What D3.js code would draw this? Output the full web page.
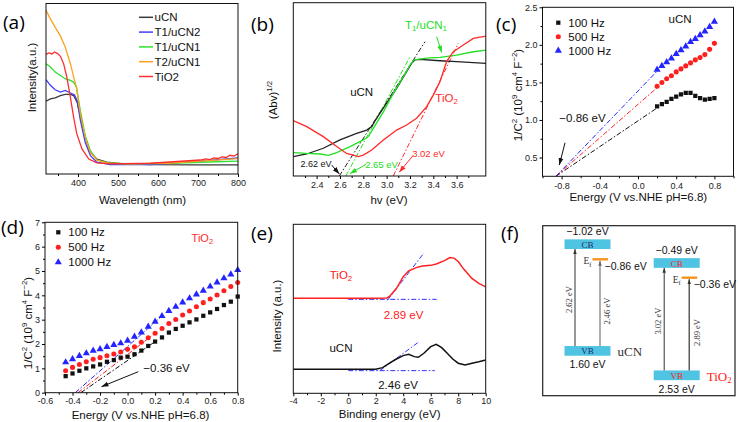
<!DOCTYPE html>
<html><head><meta charset="utf-8">
<script src="https://cdn.jsdelivr.net/npm/d3@7"></script>
<style>html,body{margin:0;padding:0;background:#fff;}svg{display:block;}</style>
</head><body>
<svg id="fig" width="738" height="422"></svg>
<script>
// ================= DATA =================
// (a) UV-vis absorbance [wavelength (nm), intensity (a.u.)]
const aNames  = ["uCN", "T1/uCN2", "T1/uCN1", "T2/uCN1", "TiO2"];
const aColors = ["#3a3a3a", "#3f3fff", "#2fe02f", "#ffa01e", "#ff2d2d"];
const aUCN    = [[320,42.7],[331,44],[343,44.7],[356,46],[368,46.7],[381,46.7],[389,46],[398,42],[406,33.3],[418,21.6],[431,12.7],[447,8.8],[472,6.9],[514,5.9],[580,5.5],[700,5.4],[800,5.3]];
const aT1uCN2 = [[320,55.3],[331,52],[343,49.4],[356,48],[368,49],[381,47.5],[391,46.5],[398,43],[406,31.4],[418,18.6],[431,10.8],[447,6.9],[481,5.5],[581,5.5],[706,7.5],[800,9.4]];
const aT1uCN1 = [[320,64.7],[331,62.7],[343,59.8],[356,57.8],[368,55.9],[381,54.9],[389,53.9],[396,51],[406,37],[418,22.5],[431,13.7],[447,8.2],[481,6.3],[539,5.9],[622,6.3],[706,6.9],[800,7.5]];
const aT2uCN1 = [[320,96],[331,91],[343,86],[356,81],[368,74.5],[381,64.7],[389,57],[396,51],[406,35],[418,21.6],[431,12.7],[447,8.2],[472,6.5],[522,5.9],[622,6.3],[706,7.5],[800,9]];
const aTiO2   = [[320,70.2],[327,71],[335,70.4],[341,71.6],[349,70.6],[356,69],[364,64.7],[372,56.9],[381,45],[389,33.3],[397,23.5],[410,14.7],[427,8.8],[447,6.5],[481,5.9],[581,6.3],[706,8.2],[720,8.9],[730,8.4],[740,9.5],[750,9.1],[760,10],[770,9.7],[780,11],[790,10.5],[800,11.8]];
const aTicks = [400, 500, 600, 700, 800];

// (b) Tauc plot [hv (eV), (Abv)^1/2]
const bUCN    = [[2.2,11.2],[2.315,12.7],[2.457,16],[2.6,20.8],[2.743,24.6],[2.829,26.5],[2.872,28.5],[2.914,33.3],[3.0,42],[3.086,50.6],[3.171,60.2],[3.214,65],[3.243,67],[3.286,67.3],[3.457,66.5],[3.6,66],[3.743,65.4],[3.857,65]];
const bT1uCN1 = [[2.2,13.5],[2.315,13],[2.43,12.7],[2.5,11.9],[2.572,13.5],[2.686,17],[2.8,20.8],[2.843,22.7],[2.886,27.5],[2.972,37],[3.057,47.7],[3.143,57.3],[3.2,64],[3.234,67],[3.343,68],[3.457,68.5],[3.6,69.8],[3.743,71.7],[3.857,72.7]];
const bTiO2   = [[2.2,31.9],[2.315,28.5],[2.457,22.7],[2.572,17],[2.657,13],[2.757,11.2],[2.8,12.1],[2.872,15],[2.972,20.8],[3.086,26.5],[3.171,29.4],[3.257,33.3],[3.343,40],[3.4,46.7],[3.457,54.4],[3.514,66],[3.571,71.7],[3.657,75.6],[3.743,79.4],[3.857,80.8]];
const bFits   = [[[2.594,0],[3.329,77.5]], [[2.65,0],[3.2,68.8]], [[3.057,0],[3.614,76.5]]];
const bTicks  = [2.4, 2.6, 2.8, 3.0, 3.2, 3.4, 3.6];

// (c) Mott-Schottky uCN
const cX     = [0.2,0.25,0.3,0.35,0.4,0.45,0.5,0.55,0.6,0.65,0.7,0.75,0.8];
const c100   = [1.18,1.21,1.24,1.28,1.31,1.34,1.36,1.36,1.32,1.29,1.27,1.28,1.29];
const c500   = [1.45,1.50,1.55,1.59,1.64,1.68,1.72,1.76,1.80,1.83,1.87,1.94,2.02];
const c1000  = [1.67,1.72,1.77,1.82,1.88,1.93,1.98,2.04,2.08,2.13,2.18,2.24,2.31];
const cFlat  = -0.86;
const cXTicks = [-0.8, -0.4, 0.0, 0.4, 0.8];
const cYTicks = [0.5, 1.0, 1.5, 2.0, 2.5];

// (d) Mott-Schottky TiO2
const dX    = [-0.45,-0.4,-0.35,-0.3,-0.25,-0.2,-0.15,-0.1,-0.05,0,0.05,0.1,0.15,0.2,0.25,0.3,0.35,0.4,0.45,0.5,0.55,0.6,0.65,0.7,0.75,0.8];
const d100  = [0.68,0.79,0.9,1.0,1.08,1.16,1.27,1.34,1.44,1.48,1.58,1.73,1.92,2.1,2.27,2.47,2.62,2.75,2.89,3.01,3.16,3.3,3.44,3.6,3.74,3.95];
const d500  = [0.9,1.04,1.16,1.27,1.37,1.44,1.52,1.59,1.67,1.78,1.89,2.07,2.26,2.44,2.64,2.84,3.01,3.19,3.36,3.53,3.7,3.85,4.01,4.19,4.36,4.53];
const d1000 = [1.25,1.38,1.51,1.62,1.73,1.79,1.88,1.96,2.03,2.14,2.3,2.48,2.71,2.92,3.15,3.36,3.53,3.71,3.88,4.04,4.19,4.36,4.53,4.7,4.86,5.04];
const dFlat = [-0.34, -0.36, -0.38];
const dFitEnd = [0.2, 0.2, 0.25];
const dXTicks = [-0.6,-0.4,-0.2,0.0,0.2,0.4,0.6,0.8];
const dYTicks = [0,1,2,3,4,5,6,7];

// (e) VB-XPS [binding energy, intensity]
const eTiO2 = [[-4,56.2],[-2,56.2],[0,56.2],[2,56.3],[2.8,56.4],[3.0,57.3],[3.5,62],[4.0,69],[4.4,72.5],[5.0,74.5],[5.4,75.3],[6.0,75.7],[6.4,76.5],[7.0,78.5],[7.4,80.3],[7.7,80],[8.0,78],[8.4,73.5],[9.0,68],[9.5,65],[10,63]];
const eUCN  = [[-4,14.2],[0,14.2],[2,14.3],[2.5,15.2],[3.0,17.8],[3.5,20.3],[4.0,22.3],[4.4,23.1],[4.8,21.7],[5.1,21.3],[5.5,23.7],[6.0,27.6],[6.4,29],[6.8,27],[7.2,23.7],[7.6,20.3],[8.0,17.8],[8.5,16.8],[9.0,17.8],[9.5,18.7],[10,19.7]];
const eBase = [[[0,55.6],[6.43,55.6]], [[0,13.4],[6.3,13.4]]];
const eTang = [[[2.85,55],[5.5,83]], [[2.3,13.4],[5.1,30.2]]];
const eTicks = [-4,-2,0,2,4,6,8,10];

// (f) band diagram
const fNames = ["uCN", "TiO2"];
const fCB = [-1.02, -0.49];
const fVB = [1.60, 2.53];
const fEf = [-0.86, -0.36];
const fGap = ["2.62 eV", "3.02 eV"];
const fGapEf = ["2.46 eV", "2.89 eV"];

// ================= DRAWING =================
const svg = d3.select("#fig");
const FONT = "'Liberation Sans', Arial, sans-serif";
const SERIF = "'Liberation Serif', 'Times New Roman', serif";
const PLAB = "'Open Sans', 'Noto Sans', sans-serif";
const defs = svg.append("defs");
svg.append("rect").attr("width",738).attr("height",422).attr("fill","#fff");

function marker(id, color, w) {
  defs.append("marker").attr("id", id).attr("viewBox","0 0 10 10").attr("refX",10).attr("refY",5)
    .attr("markerWidth", w).attr("markerHeight", w).attr("orient","auto").attr("markerUnits","userSpaceOnUse")
    .append("path").attr("d","M0,1.5 L10,5 L0,8.5 Z").attr("fill", color);
}
marker("mK","#111",7); marker("mG","#22dd22",7); marker("mR","#ff2a2a",7); marker("mF","#333",5); marker("mF2","#666",5);

let clipN = 0;
function panel(x, y) {
  const id = "cp" + (clipN++);
  const [x0,x1] = x.range(), [y0,y1] = y.range();
  defs.append("clipPath").attr("id", id).append("rect").attr("x",x0).attr("y",y1).attr("width",x1-x0).attr("height",y0-y1);
  const g = svg.append("g");
  const inner = g.append("g").attr("clip-path", `url(#${id})`);
  return {g, inner, frame: () => g.append("rect").attr("x",x0).attr("y",y1).attr("width",x1-x0).attr("height",y0-y1)
      .attr("fill","none").attr("stroke","#111").attr("stroke-width",1)};
}
function axisB(g, x, yPos, majors, minors, fmt, pad = 3) {
  const a = g.append("g").attr("transform",`translate(0,${yPos})`)
    .call(d3.axisBottom(x).tickValues(majors).tickFormat(fmt).tickSize(3).tickPadding(pad));
  a.select(".domain").remove();
  a.attr("font-family", FONT).attr("font-size", 9);
  a.selectAll("text").attr("fill","#222");
  if (minors) {
    const m = g.append("g").attr("transform",`translate(0,${yPos})`)
      .call(d3.axisBottom(x).tickValues(minors).tickFormat(() => "").tickSize(2));
    m.select(".domain").remove();
  }
}
function axisL(g, y, xPos, majors, minors, fmt) {
  const a = g.append("g").attr("transform",`translate(${xPos},0)`)
    .call(d3.axisLeft(y).tickValues(majors).tickFormat(fmt).tickSize(3).tickPadding(2));
  a.select(".domain").remove();
  a.attr("font-family", FONT).attr("font-size", 9);
  a.selectAll("text").attr("fill","#222");
  if (minors) {
    const m = g.append("g").attr("transform",`translate(${xPos},0)`)
      .call(d3.axisLeft(y).tickValues(minors).tickFormat(() => "").tickSize(2));
    m.select(".domain").remove();
  }
}
function rich(t, parts, fs) {
  let shift = 0;
  parts.forEach(([s, k]) => {
    const target = k === "sup" ? -0.38*fs : k === "sub" ? 0.28*fs : 0;
    t.append("tspan").attr("dy", target - shift).attr("font-size", k === "n" ? fs : fs*0.68).text(s);
    shift = target;
  });
  return t;
}
function text(g, x, y, s, o = {}) {
  return g.append("text").attr("x", x).attr("y", y).attr("font-family", o.font || FONT)
    .attr("font-size", o.size || 11.5).attr("fill", o.color || "#111")
    .attr("text-anchor", o.anchor || "middle").attr("dominant-baseline", o.base || "auto")
    .attr("transform", o.rot ? `rotate(-90,${x},${y})` : null).text(s);
}
function panelLabel(s, x, y) { text(svg, x, y, s, {font: PLAB, size: 19, anchor: "start", base: "central", color:"#000"}); }
const f1 = d => d.toFixed(1);
const eVfmt = d => (d < 0 ? "\u2212" : "") + Math.abs(d).toFixed(2) + " eV";

// ---------- (a) ----------
{
  const x = d3.scaleLinear([320, 800], [46, 238]);
  const y = d3.scaleLinear([0, 100], [174, 3.5]);
  const P = panel(x, y);
  const line = d3.line().x(d => x(d[0])).y(d => y(d[1]));
  [aUCN, aT1uCN2, aT1uCN1, aT2uCN1, aTiO2].forEach((s, i) =>
    P.inner.append("path").attr("d", line(s)).attr("fill","none").attr("stroke", aColors[i]).attr("stroke-width", 1.3));
  P.frame();
  axisB(P.g, x, 174, aTicks, [350,450,550,650,750], d => d);
  text(P.g, 142.5, 204, "Wavelength (nm)");
  text(P.g, 31.7, 77.5, "Intensity(a.u.)", {rot: true, base: "central"});
  aNames.forEach((n, i) => {
    const yy = 17.3 + i*14.8;
    P.g.append("line").attr("x1",139).attr("x2",153).attr("y1",yy).attr("y2",yy).attr("stroke",aColors[i]).attr("stroke-width",1.5);
    text(P.g, 154.5, yy, n, {anchor:"start", base:"central", size: 11.5});
  });
  panelLabel("(a)", 3, 22);
}

// ---------- (b) ----------
{
  const x = d3.scaleLinear([2.2, 3.85], [293.3, 485.8]);
  const y = d3.scaleLinear([0, 100], [176, 2.7]);
  const P = panel(x, y);
  const line = d3.line().x(d => x(d[0])).y(d => y(d[1]));
  const cols = ["#222", "#22e022", "#ff2a2a"];
  bFits.forEach((f, i) => P.inner.append("path").attr("d", line(f)).attr("fill","none").attr("stroke", cols[i])
      .attr("stroke-width",1).attr("stroke-dasharray","5,2,1.5,2"));
  [bUCN, bT1uCN1, bTiO2].forEach((s, i) =>
    P.inner.append("path").attr("d", line(s)).attr("fill","none").attr("stroke", cols[i]).attr("stroke-width", 1.3));
  P.frame();
  axisB(P.g, x, 176, bTicks, [2.3,2.5,2.7,2.9,3.1,3.3,3.5,3.7], f1);
  text(P.g, 389, 203.5, "hv (eV)");
  rich(text(P.g, 273.3, 100, "", {rot: true, base: "central"}), [["(Abv)","n"],["1/2","sup"]], 11.5);
  const arrow = (a, b, c, m) => P.g.append("line").attr("x1",x(a[0])).attr("y1",y(a[1])).attr("x2",x(b[0])).attr("y2",y(b[1]))
      .attr("stroke",c).attr("stroke-width",1).attr("marker-end",`url(#${m})`);
  arrow([2.529,6.3],[2.594,1.2],"#111","mK");
  arrow([2.823,6.75],[2.686,1.4],"#22dd22","mG");
  arrow([3.223,11.5],[3.108,2.2],"#ff2a2a","mR");
  arrow([3.429,80.4],[3.472,71.2],"#22dd22","mG");
  text(P.g, x(2.394), y(6.9), "2.62 eV", {size: 9, base:"central"});
  text(P.g, x(2.956), y(6.9), "2.65 eV", {size: 9.5, base:"central", color:"#22dd22"});
  text(P.g, x(3.359), y(12.7), "3.02 eV", {size: 9.5, base:"central", color:"#ff2a2a"});
  text(P.g, x(2.786), y(48.5), "uCN", {base:"central"});
  rich(text(P.g, x(3.514), y(45), "", {base:"central", color:"#ff2a2a"}), [["TiO","n"],["2","sub"]], 11.5);
  rich(text(P.g, x(3.337), y(87.1), "", {base:"central", color:"#22dd22"}), [["T","n"],["1","sub"],["/uCN","n"],["1","sub"]], 11.5);
  panelLabel("(b)", 251, 24);
}

// ---------- (c) ----------
{
  const x = d3.scaleLinear([-1, 1], [542.5, 733.5]);
  const y = d3.scaleLinear([0.25, 2.5], [176.3, 7.3]);
  const P = panel(x, y);
  const series = [c100, c500, c1000];
  const cols = ["#111", "#ff1f1f", "#2424ff"];
  const syms = [d3.symbolSquare, d3.symbolCircle, d3.symbolTriangle];
  const sizes = [18, 20, 22];
  series.forEach((s, i) => {
    P.inner.append("line").attr("x1", x(cFlat)).attr("y1", y(0.25)).attr("x2", x(cX[0])).attr("y2", y(s[0]-0.02))
      .attr("stroke", cols[i]).attr("stroke-width",1).attr("stroke-dasharray","5,2,1.5,2");
  });
  series.forEach((s, i) => {
    P.inner.selectAll(null).data(s).join("path").attr("d", d3.symbol(syms[i], sizes[i]))
      .attr("transform", (d, j) => `translate(${x(cX[j])},${y(d)})`).attr("fill", cols[i]);
  });
  P.frame();
  axisB(P.g, x, 176.3, cXTicks, [-1.0,-0.6,-0.2,0.2,0.6,1.0], f1);
  axisL(P.g, y, 542.5, cYTicks, [0.75,1.25,1.75,2.25], f1);
  text(P.g, 638.3, 200.8, "Energy (V vs.NHE pH=6.8)");
  rich(text(P.g, 518.3, 95, "", {rot: true, base:"central"}), [["1/C","n"],["2","sup"],[" (10","n"],["9","sup"],[" cm","n"],["4","sup"],[" F","n"],["\u22122","sup"],[")","n"]], 11.5);
  ["100 Hz","500 Hz","1000 Hz"].forEach((n, i) => {
    const yy = 22.7 + i*14;
    P.g.append("path").attr("d", d3.symbol(syms[i], sizes[i])).attr("transform",`translate(558.3,${yy})`).attr("fill",cols[i]);
    text(P.g, 568.3, yy, n, {anchor:"start", base:"central"});
  });
  text(P.g, x(0.44), y(2.34), "uCN", {base:"central"});
  text(P.g, x(-0.581), y(1.022), eVfmt(cFlat), {base:"central"});
  P.g.append("line").attr("x1",x(-0.764)).attr("y1",y(0.697)).attr("x2",x(-0.824)).attr("y2",y(0.40))
    .attr("stroke","#111").attr("stroke-width",1).attr("marker-end","url(#mK)");
  panelLabel("(c)", 496, 24);
}

// ---------- (d) ----------
{
  const x = d3.scaleLinear([-0.6, 0.8], [45, 237.7]);
  const y = d3.scaleLinear([0, 7], [392.7, 222.3]);
  const P = panel(x, y);
  const series = [d100, d500, d1000];
  const cols = ["#111", "#ff1f1f", "#2424ff"];
  const syms = [d3.symbolSquare, d3.symbolCircle, d3.symbolTriangle];
  const sizes = [18, 20, 22];
  series.forEach((s, i) => {
    const j = dX.indexOf(dFitEnd[i]);
    P.inner.append("line").attr("x1", x(dFlat[i])).attr("y1", y(0)).attr("x2", x(dFitEnd[i])).attr("y2", y(s[j]))
      .attr("stroke", cols[i]).attr("stroke-width",1).attr("stroke-dasharray","5,2,1.5,2");
  });
  series.forEach((s, i) => {
    P.g.selectAll(null).data(s).join("path").attr("d", d3.symbol(syms[i], sizes[i]))
      .attr("transform", (d, j) => `translate(${x(dX[j])},${y(d)})`).attr("fill", cols[i]);
  });
  P.frame();
  axisB(P.g, x, 392.7, dXTicks, [-0.5,-0.3,-0.1,0.1,0.3,0.5,0.7], f1, 2);
  axisL(P.g, y, 45, dYTicks, [0.5,1.5,2.5,3.5,4.5,5.5,6.5], d => d);
  text(P.g, 140.5, 418.5, "Energy (V vs.NHE pH=6.8)");
  rich(text(P.g, 28.3, 323, "", {rot: true, base:"central"}), [["1/C","n"],["2","sup"],[" (10","n"],["9","sup"],[" cm","n"],["4","sup"],[" F","n"],["\u22122","sup"],[")","n"]], 11.5);
  ["100 Hz","500 Hz","1000 Hz"].forEach((n, i) => {
    const yy = 232.3 + i*15;
    P.g.append("path").attr("d", d3.symbol(syms[i], sizes[i])).attr("transform",`translate(58.3,${yy})`).attr("fill",cols[i]);
    text(P.g, 68.3, yy, n, {anchor:"start", base:"central"});
  });
  rich(text(P.g, x(0.543), y(6.34), "", {base:"central", color:"#ff2a2a"}), [["TiO","n"],["2","sub"]], 11);
  text(P.g, x(0.283), y(1.0), eVfmt(dFlat[1]), {base:"central"});
  P.g.append("line").attr("x1",x(0.078)).attr("y1",y(0.863)).attr("x2",x(-0.19)).attr("y2",y(0.247))
    .attr("stroke","#111").attr("stroke-width",1).attr("marker-end","url(#mK)");
  panelLabel("(d)", 1, 226.5);
}

// ---------- (e) ----------
{
  const x = d3.scaleLinear([-4, 10], [293.3, 485.7]);
  const y = d3.scaleLinear([0, 100], [393.3, 224.3]);
  const P = panel(x, y);
  const line = d3.line().x(d => x(d[0])).y(d => y(d[1]));
  eBase.concat(eTang).forEach(f => P.inner.append("path").attr("d", line(f)).attr("fill","none").attr("stroke","#3030ff")
      .attr("stroke-width",1).attr("stroke-dasharray","5,2,1.5,2"));
  P.inner.append("path").attr("d", line(eTiO2)).attr("fill","none").attr("stroke","#ff2020").attr("stroke-width",1.5);
  P.inner.append("path").attr("d", line(eUCN)).attr("fill","none").attr("stroke","#111").attr("stroke-width",1.5);
  P.frame();
  axisB(P.g, x, 393.3, eTicks, [-3,-1,1,3,5,7,9], d => d, 1.5);
  text(P.g, 389.7, 417.5, "Binding energy (eV)");
  text(P.g, 277.3, 316, "Intensity (a.u.)", {rot: true, base:"central"});
  rich(text(P.g, x(-0.53), y(70), "", {base:"central", color:"#ff2020"}), [["TiO","n"],["2","sub"]], 11.5);
  text(P.g, x(4.02), y(46.3), "2.89 eV", {base:"central", color:"#ff2020"});
  text(P.g, x(-0.53), y(26.6), "uCN", {base:"central"});
  text(P.g, x(3.62), y(4.9), "2.46 eV", {base:"central"});
  panelLabel("(e)", 251, 232.5);
}

// ---------- (f) ----------
{
  const g = svg.append("g");
  g.append("rect").attr("x",542.7).attr("y",225.7).attr("width",192.3).attr("height",170)
    .attr("fill","none").attr("stroke","#222").attr("stroke-width",1.2);
  const levels = [fCB[0], fEf[0], fCB[1], fEf[1], fVB[0], fVB[1]];
  const fy = d3.scaleLinear().domain(levels).range([244.2, 259.3, 263, 277.7, 350.9, 375.3]);
  const fx = d3.scalePoint().domain(fNames).range([587.5, 676.7]);
  const bw = 46, bh = 9.7;
  const boxCol = "#4fc4e2";
  const txtCol = ["#1c2a6e", "#ff2020"];
  fNames.forEach((n, i) => {
    const cx = fx(n);
    [["CB", fCB[i]], ["VB", fVB[i]]].forEach(([lab, E]) => {
      g.append("rect").attr("x", cx - bw/2).attr("y", fy(E) - bh/2).attr("width", bw).attr("height", bh).attr("fill", boxCol);
      text(g, cx, fy(E) + 0.5, lab, {font: SERIF, size: 9, base: "central", color: txtCol[i]});
    });
    text(g, cx, fy(fCB[i]) - bh/2 - 4, eVfmt(fCB[i]), {size: 10.5});
    text(g, cx, fy(fVB[i]) + bh/2 + 12.5, eVfmt(fVB[i]), {size: 10.5});
    const xa = cx - 12.5, xb = cx + 12.5;
    g.append("line").attr("x1", xa).attr("x2", xa).attr("y1", fy(fVB[i]) - bh/2).attr("y2", fy(fCB[i]) + bh/2)
      .attr("stroke","#333").attr("stroke-width",1).attr("marker-end","url(#mF)");
    g.append("line").attr("x1", xb).attr("x2", xb).attr("y1", fy(fVB[i]) - bh/2).attr("y2", fy(fEf[i]) + 1.5)
      .attr("stroke", i === 0 ? "#777" : "#333").attr("stroke-width",1.2).attr("marker-end", i === 0 ? "url(#mF2)" : "url(#mF)");
    g.append("line").attr("x1", cx + 5).attr("x2", cx + 20.5).attr("y1", fy(fEf[i])).attr("y2", fy(fEf[i]))
      .attr("stroke","#f7931e").attr("stroke-width",2.4);
    rich(text(g, cx + 4, fy(fEf[i]) + 2, "", {font: SERIF, size: 9.5, anchor: "end", base: "central", color:"#333"}), [["E","n"],["f","sub"]], 9.5);
    text(g, cx + 17, fy(fEf[i]) + 6.5, eVfmt(fEf[i]), {size: 10.5, anchor: "start", base: "central"});
    const mid1 = (fy(fVB[i]) + fy(fCB[i])) / 2, mid2 = (fy(fVB[i]) + fy(fEf[i])) / 2;
    text(g, xa - 6, mid1 + 2, fGap[i], {font: SERIF, size: 8.5, rot: true, base: "central", color:"#333"});
    text(g, xb + 7.5, mid2 + 6, fGapEf[i], {font: SERIF, size: 8.5, rot: true, base: "central", color:"#333"});
    const nm = text(g, cx + 30, fy(fVB[i]) + 1, "", {font: SERIF, size: 13, anchor: "start", base: "central", color: i === 0 ? "#333" : "#ff2020"});
    if (n === "TiO2") rich(nm, [["TiO","n"],["2","sub"]], 13); else nm.text(n);
  });
  panelLabel("(f)", 501, 233.3);
}
</script>
</body></html>
